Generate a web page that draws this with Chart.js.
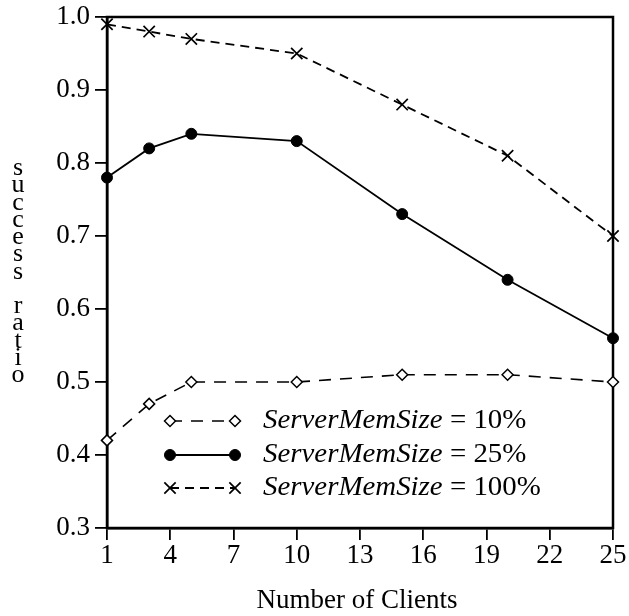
<!DOCTYPE html>
<html>
<head>
<meta charset="utf-8">
<script src="https://cdn.jsdelivr.net/npm/chart.js@4.4.1/dist/chart.umd.min.js"></script>
<style>
	body { margin: 0; background: #fff; }
	canvas { display: block; }
</style>
</head>
<body>
<canvas id="mycanvas" width="629" height="616"></canvas>
<script>
var clients = [1, 3, 5, 10, 15, 20, 25];
var mem10 = [0.42, 0.47, 0.50, 0.50, 0.51, 0.51, 0.50];
var mem25 = [0.78, 0.82, 0.84, 0.83, 0.73, 0.64, 0.56];
var mem100 = [0.99, 0.98, 0.97, 0.95, 0.88, 0.81, 0.70];
var xTicks = [1, 4, 7, 10, 13, 16, 19, 22, 25];
var yTicks = [0.3, 0.4, 0.5, 0.6, 0.7, 0.8, 0.9, 1.0];
var seriesNames = ["10%", "25%", "100%"];

var SERIF = "'Liberation Serif', 'DejaVu Serif', serif";

function points(vals) {
	var out = [];
	for (var i in clients) {
		out.push({x: clients[i], y: vals[i]});
	}
	return out;
}

var chartdata = {
	datasets: [
		{
			label: "ServerMemSize = " + seriesNames[0],
			data: points(mem10),
			borderColor: "#000",
			borderWidth: 1.6,
			borderDash: [12, 9],
			pointStyle: "rectRot",
			pointRadius: 5.5,
			pointBorderWidth: 1.5,
			pointBackgroundColor: "#fff",
			pointBorderColor: "#000",
			clip: false
		},
		{
			label: "ServerMemSize = " + seriesNames[1],
			data: points(mem25),
			borderColor: "#000",
			borderWidth: 1.8,
			pointStyle: "circle",
			pointRadius: 5.5,
			pointBorderWidth: 1,
			pointBackgroundColor: "#000",
			pointBorderColor: "#000",
			clip: false
		},
		{
			label: "ServerMemSize = " + seriesNames[2],
			data: points(mem100),
			borderColor: "#000",
			borderWidth: 1.8,
			borderDash: [9, 6],
			pointStyle: "crossRot",
			pointRadius: 8,
			pointBorderWidth: 1.7,
			pointBackgroundColor: "#000",
			pointBorderColor: "#000",
			clip: false
		}
	]
};

// box around the plot
var framePlugin = {
	id: "frame",
	beforeDatasetsDraw: function(chart) {
		var a = chart.chartArea, ctx = chart.ctx;
		ctx.save();
		ctx.strokeStyle = "#000";
		ctx.lineWidth = 2.5;
		ctx.strokeRect(a.left, a.top, a.right - a.left, a.bottom - a.top);
		ctx.restore();
	}
};

// legend inside plot, titles
var extrasPlugin = {
	id: "extras",
	afterDraw: function(chart) {
		var ctx = chart.ctx;
		ctx.save();
		ctx.fillStyle = "#000";

		// legend
		var rows = [421, 455, 488];
		var x0 = 170, x1 = 235, tx = 263;
		chart.data.datasets.forEach(function(ds, i) {
			var y = rows[i];
			ctx.save();
			ctx.strokeStyle = "#000";
			ctx.lineWidth = ds.borderWidth;
			ctx.setLineDash(ds.borderDash || []);
			ctx.beginPath();
			ctx.moveTo(x0, y);
			ctx.lineTo(x1, y);
			ctx.stroke();
			ctx.restore();
			var opts = {
				pointStyle: ds.pointStyle,
				radius: ds.pointRadius,
				borderWidth: ds.pointBorderWidth,
				rotation: 0
			};
			ctx.save();
			ctx.setLineDash([]);
			ctx.fillStyle = ds.pointBackgroundColor;
			ctx.strokeStyle = ds.pointBorderColor;
			ctx.lineWidth = ds.pointBorderWidth;
			Chart.helpers.drawPoint(ctx, opts, x0, y);
			Chart.helpers.drawPoint(ctx, opts, x1, y);
			ctx.restore();

			// math-style text is wider, stretch a little
			ctx.save();
			ctx.translate(tx, y);
			ctx.scale(1.07, 1);
			ctx.textBaseline = "middle";
			ctx.textAlign = "left";
			ctx.font = "italic 27px " + SERIF;
			ctx.fillText("ServerMemSize", 0, 0);
			var w = ctx.measureText("ServerMemSize").width;
			ctx.font = "27px " + SERIF;
			ctx.fillText(" = " + seriesNames[i], w, 0);
			ctx.restore();
		});

		// y title, one letter under the other
		var word = "success ratio";
		ctx.font = "26px " + SERIF;
		ctx.textAlign = "center";
		ctx.textBaseline = "alphabetic";
		for (var k = 0; k < word.length; k++) {
			ctx.fillText(word[k], 18, 175 + k * 17.25);
		}

		// x title
		ctx.textBaseline = "middle";
		ctx.font = "27px " + SERIF;
		ctx.fillText("Number of Clients", 357, 601);
		ctx.restore();
	}
};

var ctx = document.getElementById("mycanvas");

var LineGraph = new Chart(ctx, {
	type: "line",
	data: chartdata,
	plugins: [framePlugin, extrasPlugin],
	options: {
		responsive: false,
		animation: false,
		devicePixelRatio: 1,
		layout: { padding: { left: 0, right: 16, top: 17, bottom: 0 } },
		plugins: {
			legend: { display: false },
			tooltip: { enabled: false }
		},
		scales: {
			x: {
				type: "linear",
				min: 1,
				max: 25,
				afterBuildTicks: function(scale) {
					scale.ticks = xTicks.map(function(v) { return {value: v}; });
				},
				afterFit: function(scale) {
					scale.height = 88;
					scale.paddingLeft = 0;
					scale.paddingRight = 0;
				},
				grid: { drawOnChartArea: false, drawTicks: true, tickLength: 12, color: "#000", lineWidth: 1.8 },
				border: { display: true, color: "#000", width: 2.5 },
				ticks: {
					color: "#000",
					padding: 0,
					maxRotation: 0,
					autoSkip: false,
					font: { family: SERIF, size: 27 }
				}
			},
			y: {
				min: 0.3,
				max: 1.0,
				afterBuildTicks: function(scale) {
					scale.ticks = yTicks.map(function(v) { return {value: v}; });
				},
				afterFit: function(scale) {
					scale.width = 107;
					scale.paddingTop = 0;
					scale.paddingBottom = 0;
				},
				grid: { drawOnChartArea: false, drawTicks: true, tickLength: 12, color: "#000", lineWidth: 1.8 },
				border: { display: true, color: "#000", width: 2.5 },
				ticks: {
					color: "#000",
					padding: 5,
					autoSkip: false,
					font: { family: SERIF, size: 27 },
					callback: function(v) { return Number(v).toFixed(1); }
				}
			}
		}
	}
});
</script>
</body>
</html>
